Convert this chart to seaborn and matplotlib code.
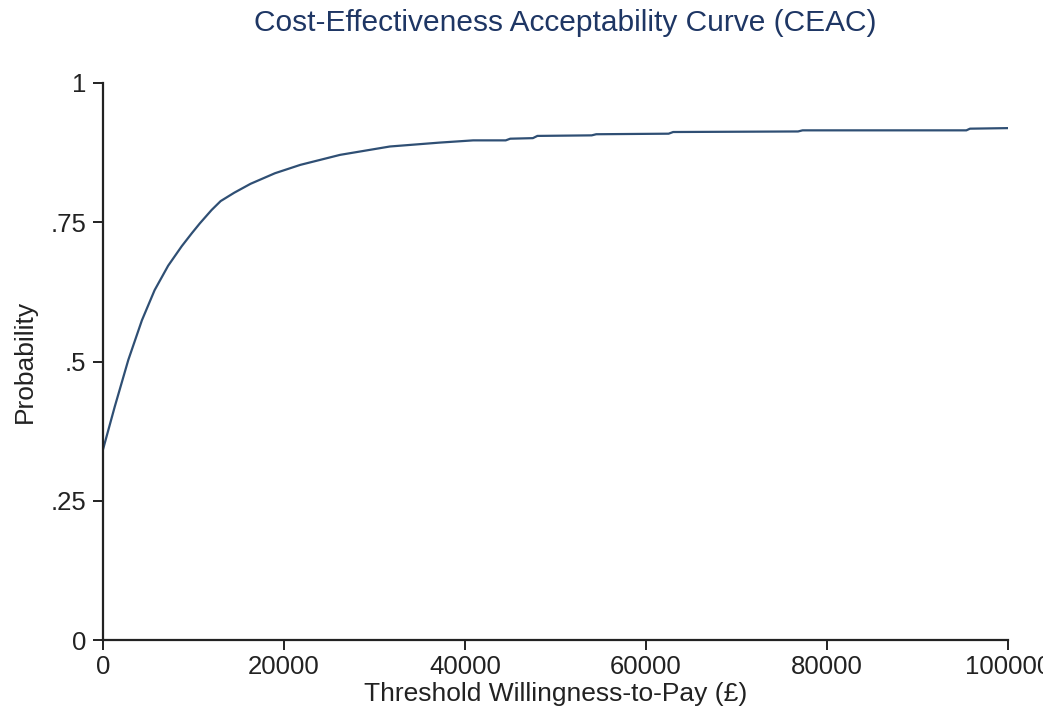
import matplotlib
matplotlib.use("Agg")
import matplotlib.pyplot as plt
import seaborn as sns
import pandas as pd

# threshold willingness-to-pay (GBP) and probability cost-effective
wtp = [0, 1300, 2800, 4300, 5700, 7200, 8700, 9800, 10700, 12000, 13000,
       14500, 16300, 19000, 21800, 26200, 31700, 37200, 40900, 44500, 45000, 47500, 48000,
       54000, 54500, 62500, 63000, 76800, 77300, 95400, 95800, 100000]
prob = [0.342, 0.419, 0.503, 0.574, 0.628, 0.672, 0.707, 0.730, 0.748, 0.772, 0.788,
        0.803, 0.819, 0.838, 0.853, 0.871, 0.886, 0.893, 0.897, 0.897, 0.900, 0.901, 0.905,
        0.906, 0.908, 0.909, 0.912, 0.913, 0.915, 0.915, 0.918, 0.919]

y_ticks = [0, 0.25, 0.5, 0.75, 1]
y_labels = ["0", ".25", ".5", ".75", "1"]
x_ticks = [0, 20000, 40000, 60000, 80000, 100000]
x_labels = ["0", "20000", "40000", "60000", "80000", "100000"]

df = pd.DataFrame({"wtp": wtp, "prob": prob})

sns.set_theme(style="white")
plt.rcParams["font.family"] = ["Liberation Sans", "DejaVu Sans"]

fig = plt.figure(figsize=(10.43, 7.17), dpi=100)
ax = fig.add_axes([103 / 1043, 77 / 717, 905 / 1043, 557 / 717])

sns.lineplot(data=df, x="wtp", y="prob", ax=ax, color="#2f4f74", lw=1.6,
             estimator=None, sort=False)

ax.set_xlim(0, 100000)
ax.set_ylim(0, 1)
ax.set_xticks(x_ticks)
ax.set_xticklabels(x_labels)
ax.set_yticks(y_ticks)
ax.set_yticklabels(y_labels)
ax.tick_params(axis="both", direction="out", length=7, width=1.4, color="#222222",
               labelsize=18.5, labelcolor="#222222", bottom=True, left=True)
ax.tick_params(axis="y", pad=5)
ax.tick_params(axis="x", pad=4)

sns.despine(ax=ax)
for s in ["left", "bottom"]:
    ax.spines[s].set_color("#222222")
    ax.spines[s].set_linewidth(1.6)

ax.set_xlabel("Threshold Willingness-to-Pay (£)", fontsize=19, color="#222222", labelpad=2)
ax.set_ylabel("Probability", fontsize=19, color="#222222", labelpad=10)
fig.suptitle("Cost-Effectiveness Acceptability Curve (CEAC)", fontsize=21.5,
             color="#1e3664", x=565 / 1043, y=0.988, va="top")

fig.savefig("out.png", dpi=100)
